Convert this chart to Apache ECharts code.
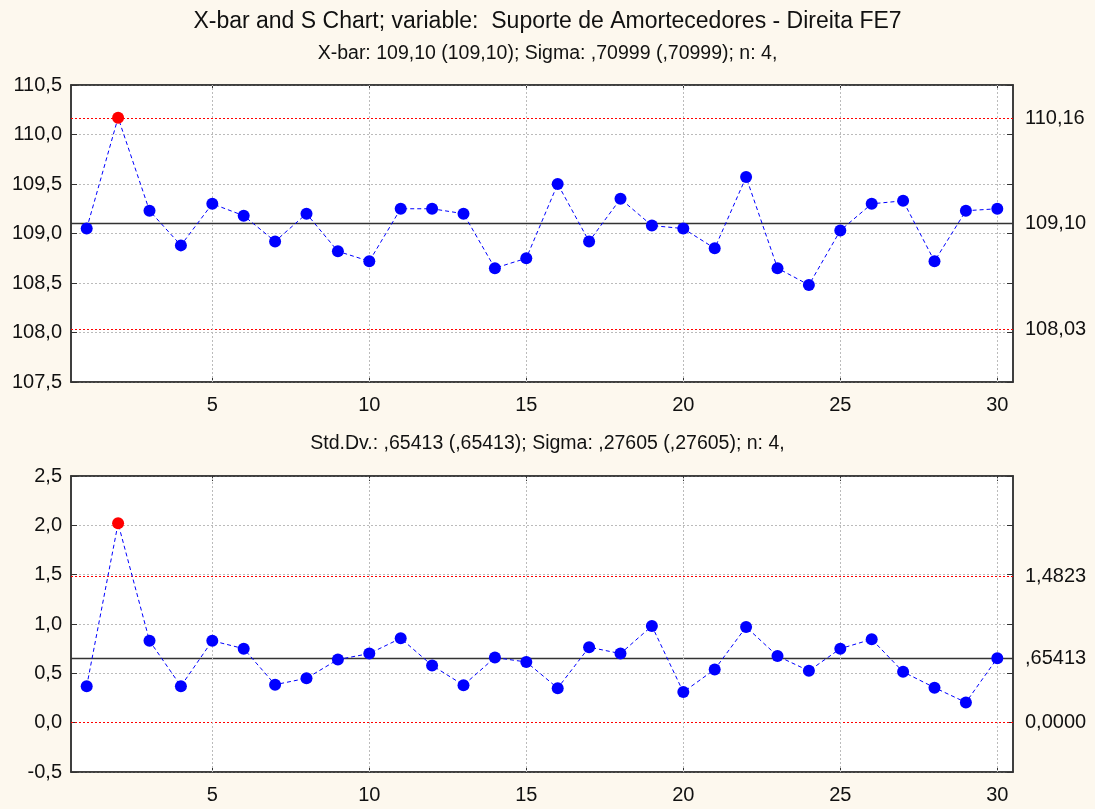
<!DOCTYPE html>
<html>
<head>
<meta charset="utf-8">
<script src="https://cdn.jsdelivr.net/npm/echarts@6/dist/echarts.min.js"></script>
<style>
html,body{margin:0;padding:0;background:#FDF8EE;}
#chart{width:1095px;height:809px;}
</style>
</head>
<body>
<div id="chart"></div>
<script>
// ---- Data ----
const samples = [1,2,3,4,5,6,7,8,9,10,11,12,13,14,15,16,17,18,19,20,21,22,23,24,25,26,27,28,29,30];
const xbarMeans = [109.05,110.17,109.23,108.88,109.30,109.18,108.92,109.20,108.82,108.72,
                   109.25,109.25,109.20,108.65,108.75,109.50,108.92,109.35,109.08,109.05,
                   108.85,109.57,108.65,108.48,109.03,109.30,109.33,108.72,109.23,109.25];
const sdValues = [0.37,2.02,0.83,0.37,0.83,0.75,0.385,0.45,0.64,0.70,
                  0.855,0.58,0.38,0.66,0.615,0.35,0.765,0.70,0.98,0.31,
                  0.54,0.97,0.675,0.525,0.75,0.845,0.515,0.355,0.205,0.654];
const xbarLimits = {ucl:110.16, cl:109.10, lcl:108.03};
const xbarLimitLabels = {ucl:'110,16', cl:'109,10', lcl:'108,03'};
const sdLimits = {ucl:1.4823, cl:0.65413, lcl:0};
const sdLimitLabels = {ucl:'1,4823', cl:',65413', lcl:'0,0000'};
const xTickValues = [5,10,15,20,25,30];
const titleText = 'X-bar and S Chart; variable:  Suporte de Amortecedores - Direita FE7';
const xbarSubtitle = 'X-bar: 109,10 (109,10); Sigma: ,70999 (,70999); n: 4,';
const sdSubtitle = 'Std.Dv.: ,65413 (,65413); Sigma: ,27605 (,27605); n: 4,';

// ---- Chart ----
const FONT = '"Liberation Sans", Arial, sans-serif';
const chart = echarts.init(document.getElementById('chart'));
const commaFmt = v => v.toFixed(1).replace('.', ',');

function mkPoints(vals, lim){
  return vals.map((v,i)=>{
    const out = v > lim.ucl || v < lim.lcl;
    return {value:[samples[i], v], itemStyle:{color: out ? '#FF0000' : '#0000FF'}};
  });
}
function mkMarkLine(lim, labels){
  const redStyle = {color:'#FF0000', type:[2,2], width:1};
  const lbl = {show:true, position:'end', distance:12, color:'#111', fontSize:20, fontFamily:FONT, align:'left'};
  return {
    silent:true, symbol:'none', animation:false,
    data:[
      {yAxis:lim.ucl, lineStyle:redStyle, label:Object.assign({formatter:labels.ucl}, lbl)},
      {yAxis:lim.cl, lineStyle:{color:'#333', type:'solid', width:1.3}, label:Object.assign({formatter:labels.cl}, lbl)},
      {yAxis:lim.lcl, lineStyle:redStyle, label:Object.assign({formatter:labels.lcl}, lbl)}
    ]
  };
}
function vGrid(){
  return {
    silent:true, symbol:'none', animation:false, label:{show:false},
    lineStyle:{color:'#BBBBBB', type:[2,2], width:1},
    data: xTickValues.map(x=>({xAxis:x}))
  };
}

const grids = [
  {left:71, top:85, width:942, height:297},
  {left:71, top:476, width:942, height:296}
];
const gridCommon = {show:true, backgroundColor:'#FFFFFF', borderColor:'#333', borderWidth:1.5};

function xAx(gi, pos, labels){
  return {
    type:'value', gridIndex:gi, position:pos, min:0.5, max:30.5,
    axisLine:{show:true, onZero:false, lineStyle:{color:'#333', width:1.5}},
    axisTick:{show:true, inside:true, length:5, customValues:xTickValues, lineStyle:{color:'#333'}},
    axisLabel:{show:labels, customValues:xTickValues, margin:13, fontSize:20, color:'#111', fontFamily:FONT},
    splitLine:{show:false}
  };
}
function yAx(gi, pos, min, max, labels){
  return {
    type:'value', gridIndex:gi, position:pos, min:min, max:max, interval:0.5,
    axisLine:{show:true, onZero:false, lineStyle:{color:'#333', width:1.5}},
    axisTick:{show:true, inside:true, length:6, lineStyle:{color:'#333'}},
    axisLabel:{show:labels, formatter:commaFmt, margin:9, fontSize:20, color:'#111', fontFamily:FONT},
    splitLine:{show:labels, lineStyle:{color:'#BBBBBB', type:[2,2], width:1}}
  };
}

const lineStyle = {color:'#0000FF', type:[4,3], width:1};

chart.setOption({
  backgroundColor:'#FDF8EE',
  animation:false,
  title:[
    {text:titleText, left:'center', top:5, textStyle:{fontSize:23, fontWeight:'normal', color:'#111', fontFamily:FONT}},
    {text:xbarSubtitle, left:'center', top:39, textStyle:{fontSize:19.5, fontWeight:'normal', color:'#111', fontFamily:FONT}},
    {text:sdSubtitle, left:'center', top:429, textStyle:{fontSize:19.5, fontWeight:'normal', color:'#111', fontFamily:FONT}}
  ],
  grid: grids.map(g=>Object.assign({}, gridCommon, g)),
  xAxis:[xAx(0,'bottom',true), xAx(0,'top',false), xAx(1,'bottom',true), xAx(1,'top',false)],
  yAxis:[yAx(0,'left',107.5,110.5,true), yAx(0,'right',107.5,110.5,false),
         yAx(1,'left',-0.5,2.5,true), yAx(1,'right',-0.5,2.5,false)],
  series:[
    {type:'line', xAxisIndex:0, yAxisIndex:0, data:mkPoints(xbarMeans, xbarLimits),
     symbol:'circle', symbolSize:12, lineStyle:lineStyle, z:5, markLine:mkMarkLine(xbarLimits, xbarLimitLabels)},
    {type:'line', xAxisIndex:0, yAxisIndex:0, data:[], markLine:vGrid(), z:1},
    {type:'line', xAxisIndex:2, yAxisIndex:2, data:mkPoints(sdValues, sdLimits),
     symbol:'circle', symbolSize:12, lineStyle:lineStyle, z:5, markLine:mkMarkLine(sdLimits, sdLimitLabels)},
    {type:'line', xAxisIndex:2, yAxisIndex:2, data:[], markLine:vGrid(), z:1}
  ]
});
</script>
</body>
</html>
